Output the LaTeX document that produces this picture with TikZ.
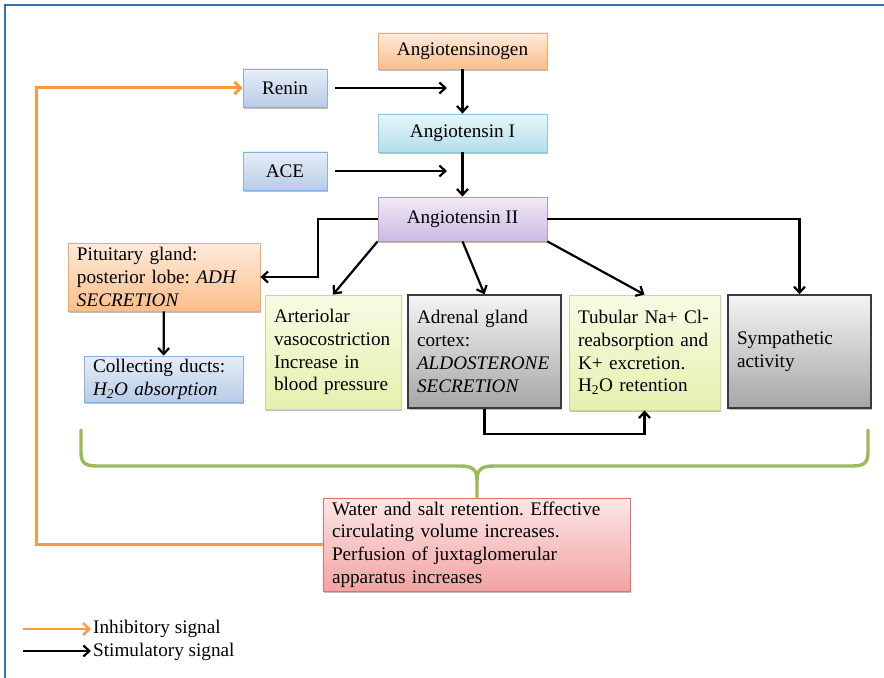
\documentclass[tikz,border=0pt]{standalone}
\usepackage{fontspec}
\setmainfont{Liberation Serif}
\usetikzlibrary{arrows.meta,shadows}
\frenchspacing

\definecolor{frameblue}{HTML}{2E75B6}
\definecolor{inhorange}{HTML}{F79A46}
\definecolor{bracegreen}{HTML}{9BBB59}
% box palettes: top / bottom / border
\definecolor{orT}{HTML}{FDEBDC}\definecolor{orB}{HTML}{FABE8A}\definecolor{orD}{HTML}{F6A863}
\definecolor{blT}{HTML}{E6EEF8}\definecolor{blB}{HTML}{B7CCE6}\definecolor{blD}{HTML}{8EAFD8}
\definecolor{cyT}{HTML}{E8F6FA}\definecolor{cyB}{HTML}{B3DEEA}\definecolor{cyD}{HTML}{8CCADB}
\definecolor{puT}{HTML}{F1EAF7}\definecolor{puB}{HTML}{CDB9E2}\definecolor{puD}{HTML}{AE97CC}
\definecolor{ygT}{HTML}{F8FBE4}\definecolor{ygB}{HTML}{E6EFAE}\definecolor{ygD}{HTML}{C5D79A}
\definecolor{grT}{HTML}{F4F4F4}\definecolor{grB}{HTML}{A6A6A6}\definecolor{grD}{HTML}{3A3A3A}
\definecolor{pkT}{HTML}{FCE6E6}\definecolor{pkB}{HTML}{F3A3A3}\definecolor{pkD}{HTML}{DE7070}

\begin{document}
\begin{tikzpicture}[x=1bp,y=-1bp,
  box/.style={draw, line width=0.8bp, inner xsep=9bp, inner ysep=2bp,
    font=\fontsize{19.2bp}{22.8bp}\selectfont,
    drop shadow={shadow xshift=1.2bp, shadow yshift=-1.6bp, opacity=0.25, fill=black}},
  cbox/.style={box, align=center},
  lbox/.style={box, align=left},
  orangebox/.style={top color=orT, bottom color=orB, draw=orD},
  bluebox/.style={top color=blT, bottom color=blB, draw=blD},
  cyanbox/.style={top color=cyT, bottom color=cyB, draw=cyD},
  purplebox/.style={top color=puT, bottom color=puB, draw=puD},
  greenbox/.style={top color=ygT, bottom color=ygB, draw=ygD},
  graybox/.style={top color=grT, bottom color=grB, draw=grD, line width=1.5bp},
  pinkbox/.style={top color=pkT, bottom color=pkB, draw=pkD},
  arr/.style={draw=black, line width=2.2bp, -{Straight Barb[length=6bp,width=11bp]}},
  inh/.style={draw=inhorange, line width=3bp, -{Straight Barb[length=6bp,width=12bp]}},
  legtext/.style={anchor=west, inner xsep=1bp, font=\fontsize{19.2bp}{22.8bp}\selectfont}
]
\useasboundingbox (0,0) rectangle (884,678);

% outer frame (top and left edges)
\draw[frameblue, line width=2.6bp] (5,678) -- (5,5) -- (884,5);

% cascade
\node[cbox, orangebox, minimum width=169bp, minimum height=36bp] (agen) at (462.5,51) {Angiotensinogen};
\node[cbox, bluebox,   minimum width=84bp,  minimum height=38bp] (ren)  at (285,88)  {Renin};
\node[cbox, cyanbox,   minimum width=169bp, minimum height=38bp] (a1)   at (462.5,133) {Angiotensin I};
\node[cbox, bluebox,   minimum width=84bp,  minimum height=38bp] (ace)  at (285,171) {ACE};
\node[cbox, purplebox, minimum width=169bp, minimum height=44bp] (a2)   at (462.5,219) {Angiotensin II};

% effects
\node[lbox, orangebox, text width=174bp, minimum height=68bp] (pit) at (164,277)
  {Pituitary gland:\\posterior lobe: \textit{ADH}\\\textit{SECRETION}};
\node[lbox, bluebox, text width=141bp, minimum height=46bp] (col) at (163.5,379)
  {Collecting ducts:\\\textit{H\textsubscript{2}O absorption}};
\node[lbox, greenbox, text width=118bp, minimum height=114bp] (art) at (333,352)
  {Arteriolar\\vasocostriction\\Increase in\\blood pressure};
\node[lbox, graybox, text width=135bp, minimum height=113bp] (adr) at (484.5,351.5)
  {Adrenal gland\\cortex:\\\textit{ALDOSTERONE}\\\textit{SECRETION}};
\node[lbox, greenbox, text width=133bp, minimum height=115bp] (tub) at (644.5,352.5)
  {Tubular Na+ Cl-\\reabsorption and\\K+ excretion.\\H\textsubscript{2}O retention};
\node[lbox, graybox, text width=125bp, minimum height=113bp] (sym) at (799.5,351.5)
  {Sympathetic\\activity};
\node[lbox, pinkbox, text width=289bp, minimum height=93bp] (wat) at (476.5,544.5)
  {Water and salt retention. Effective\\circulating volume increases.\\Perfusion of juxtaglomerular\\apparatus increases};

% enzyme arrows
\coordinate (rtip) at (447,88);
\coordinate (atip) at (447,171);
\draw[arr] ([xshift=8bp]ren.east) -- (rtip);
\draw[arr] ([xshift=8bp]ace.east) -- (atip);

% main chain
\draw[arr] (agen) -- (a1);
\draw[arr] (a1) -- (a2);

% Angiotensin II targets
\draw[arr] (a2.west) -- ++(-60,0) |- (pit.east);
\draw[arr] (a2.south west) -- (art.north);
\draw[arr] (a2.south) -- (adr.north);
\draw[arr] (a2.south east) -- (tub.north);
\draw[arr] (a2.east) -| (sym.north);
\draw[arr] (pit) -- (col);
\draw[arr] (adr.south) -- ++(0,25) -| (tub.south);

% summarising brace
\draw[bracegreen, line width=3.4bp, line cap=round]
  (81,430) -- (81,452) .. controls (81,463) and (85,466) .. (97,466)
  -- (460,466) .. controls (472,466) and (477,469) .. (477,480) -- (477,497);
\draw[bracegreen, line width=3.4bp, line cap=round]
  (868,430) -- (868,452) .. controls (868,463) and (864,466) .. (852,466)
  -- (494,466) .. controls (482,466) and (477,469) .. (477,480);

% feedback loop
\draw[inh] (wat.west) -- ++(-286,0) |- (ren.west);

% legend
\coordinate (l1a) at (23,629);
\coordinate (l1b) at (91,629);
\coordinate (l2a) at (23,651);
\coordinate (l2b) at (91,651);
\draw[inh, line width=2.6bp] (l1a) -- (l1b);
\draw[arr] (l2a) -- (l2b);
\node[legtext] (leg1) at (92,629) {Inhibitory signal};
\node[legtext] (leg2) at (92,652) {Stimulatory signal};
\end{tikzpicture}
\end{document}
